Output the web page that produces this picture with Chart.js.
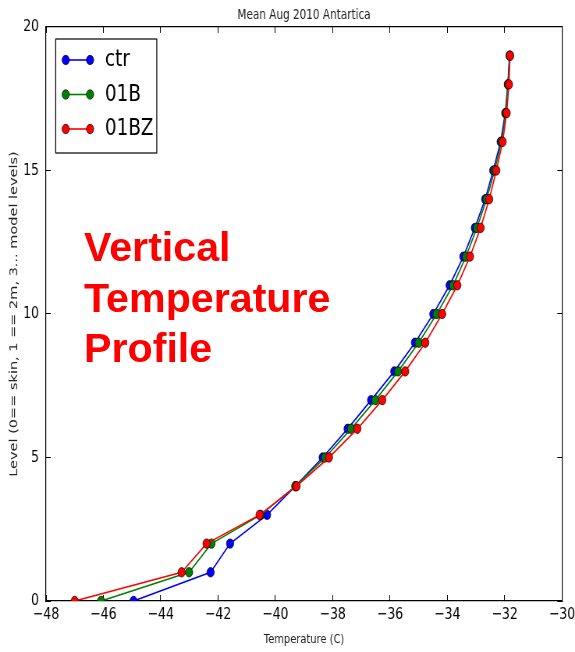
<!DOCTYPE html>
<html><head><meta charset="utf-8">
<script src="https://cdn.jsdelivr.net/npm/chart.js@4.4.1/dist/chart.umd.min.js"></script>
<style>
html,body{margin:0;padding:0;background:#fff;overflow:hidden;width:575px;height:652px;}
#wrap{position:absolute;left:0;top:0;width:737px;height:652px;transform:scaleX(0.7802);transform-origin:0 0;}
#overlay{position:absolute;left:84px;top:222px;font:bold 41.2px "Liberation Sans",Arial,sans-serif;color:#ff0000;line-height:50.5px;white-space:nowrap;}
</style></head>
<body>
<div id="wrap"><canvas id="c" width="737" height="652"></canvas></div>
<div id="overlay">Vertical<br>Temperature<br>Profile</div>
<script>
const levels = [0,1,2,3,4,5,6,7,8,9,10,11,12,13,14,15,16,17,18,19];
const ctr  = [-44.95,-42.26,-41.58,-40.29,-39.30,-38.35,-37.48,-36.66,-35.85,-35.13,-34.49,-33.92,-33.44,-33.04,-32.68,-32.40,-32.14,-31.98,-31.89,-31.83];
const b01  = [-46.08,-43.01,-42.23,-40.51,-39.30,-38.26,-37.36,-36.51,-35.72,-35.00,-34.37,-33.80,-33.35,-32.97,-32.63,-32.35,-32.11,-31.96,-31.88,-31.82];
const b01z = [-47.00,-43.27,-42.40,-40.55,-39.26,-38.13,-37.14,-36.27,-35.47,-34.77,-34.18,-33.65,-33.21,-32.84,-32.54,-32.29,-32.07,-31.93,-31.85,-31.81];
const seriesNames = ['ctr','01B','01BZ'];
const seriesColors = ['#0000ff','#008000','#ff0000'];
const xTicks = [-48,-46,-44,-42,-40,-38,-36,-34,-32,-30];
const yTicks = [0,5,10,15,20];

Chart.defaults.font.family = '"DejaVu Sans", sans-serif';
Chart.defaults.color = '#000';

function pts(xs){ return xs.map((v,i)=>({x:v,y:levels[i]})); }
const allSeries = [ctr,b01,b01z];
const datasets = allSeries.map((s,i)=>({
  label: seriesNames[i],
  data: pts(s),
  showLine: true,
  borderColor: seriesColors[i],
  backgroundColor: seriesColors[i],
  borderWidth: 1.6,
  pointRadius: 4.7,
  pointBorderColor: '#000',
  pointBorderWidth: 0.7,
  pointBackgroundColor: seriesColors[i],
  order: 3 - i
}));

const minus = v => String(v).replace('-', '\u2212');

const legendPlugin = {
  id: 'boxLegend',
  afterDraw(chart){
    const ctx = chart.ctx;
    ctx.save();
    const L = 71.4, T = 39, R = 200.9, B = 153;
    ctx.fillStyle = '#fff';
    ctx.fillRect(L, T, R-L, B-T);
    ctx.strokeStyle = '#000';
    ctx.lineWidth = 1.2;
    ctx.strokeRect(L, T, R-L, B-T);
    const ys = [60, 94.5, 129];
    chart.data.datasets.forEach((ds, i) => {
      const y = ys[i];
      ctx.strokeStyle = ds.borderColor;
      ctx.lineWidth = ds.borderWidth;
      ctx.beginPath(); ctx.moveTo(84.2, y); ctx.lineTo(115.4, y); ctx.stroke();
      [84.2, 115.4].forEach(x => {
        ctx.beginPath(); ctx.arc(x, y, ds.pointRadius, 0, Math.PI*2);
        ctx.fillStyle = ds.pointBackgroundColor; ctx.fill();
        ctx.strokeStyle = '#000'; ctx.lineWidth = ds.pointBorderWidth; ctx.stroke();
      });
      ctx.fillStyle = '#000';
      ctx.font = '23.5px "DejaVu Sans", sans-serif';
      ctx.textBaseline = 'middle';
      ctx.textAlign = 'left';
      ctx.fillText(ds.label, 134.6, y);
    });
    ctx.restore();
  }
};

const tickGrid = { drawOnChartArea:false, drawTicks:true, tickLength:-6, color:'#000', lineWidth:1 };
const border = { display:true, color:'#000', width:1.2 };

new Chart(document.getElementById('c'), {
  type: 'scatter',
  data: { datasets },
  options: {
    responsive: false,
    animation: false,
    layout: { padding: { left:0, right:16.7, top:0, bottom:0 } },
    plugins: {
      legend: { display:false },
      tooltip: { enabled:false },
      title: { display:true, fullSize:false, text:'Mean Aug 2010 Antartica', color:'#222',
               font:{ size:13.4, weight:'normal' }, padding:{ top:7, bottom:3.9 } }
    },
    scales: {
      x: {
        type:'linear', position:'bottom', min:-48, max:-30,
        afterBuildTicks: s => { s.ticks = xTicks.map(v=>({value:v})); },
        ticks: { autoSkip:false, maxRotation:0, padding:10, font:{size:16}, color:'#000', callback: v => minus(v) },
        grid: tickGrid, border,
        title: { display:true, text:'Temperature (C)', color:'#222', font:{size:12.7}, padding:{top:0,bottom:5} },
        afterFit: s => { s.height = 51; s.paddingLeft = 0; s.paddingRight = 0; }
      },
      x2: {
        type:'linear', position:'top', min:-48, max:-30,
        afterBuildTicks: s => { s.ticks = xTicks.map(v=>({value:v})); },
        ticks: { display:false },
        grid: tickGrid, border,
        afterFit: s => { s.height = 0; s.paddingLeft = 0; s.paddingRight = 0; }
      },
      y: {
        type:'linear', position:'left', min:0, max:20,
        afterBuildTicks: s => { s.ticks = yTicks.map(v=>({value:v})); },
        ticks: { autoSkip:false, padding:15, font:{size:16}, color:'#000' },
        grid: tickGrid, border,
        title: { display:true, text:'Level (0== skin, 1 == 2m, 3... model levels)', color:'#222', font:{size:14.5}, padding:{top:9.3,bottom:0} },
        afterFit: s => { s.width = 59; s.paddingTop = 0; s.paddingBottom = 0; }
      },
      y2: {
        type:'linear', position:'right', min:0, max:20,
        afterBuildTicks: s => { s.ticks = yTicks.map(v=>({value:v})); },
        ticks: { display:false },
        grid: tickGrid, border,
        afterFit: s => { s.width = 0; s.paddingTop = 0; s.paddingBottom = 0; }
      }
    }
  },
  plugins: [legendPlugin]
});
</script>
</body></html>
